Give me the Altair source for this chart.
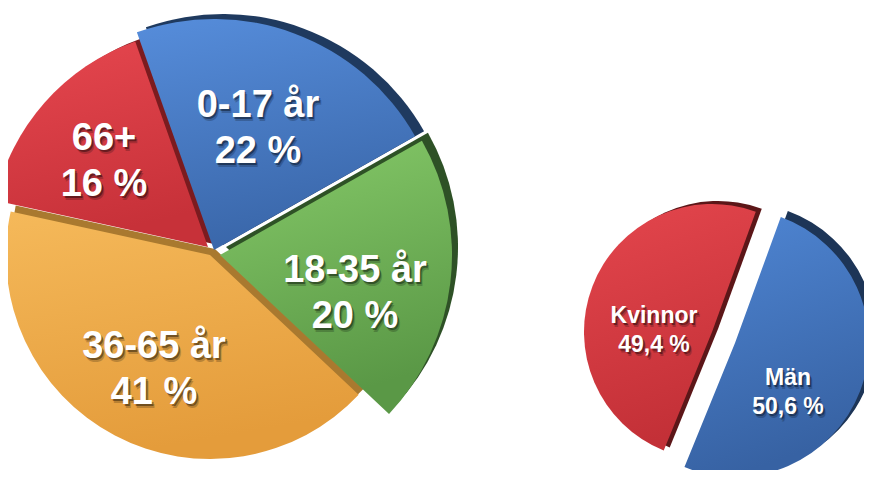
import math
import altair as alt
import pandas as pd

# ---- data ----
age_labels = ["0-17 år", "18-35 år", "36-65 år", "66+"]
age_values = [22, 20, 41, 16]
sex_labels = ["Män", "Kvinnor"]
sex_values = [50.6, 49.4]

age_df = pd.DataFrame({"cat": age_labels, "v": age_values})
sex_df = pd.DataFrame({"cat": sex_labels, "v": sex_values})

FONT = "Liberation Sans"


def grad(top, bot):
    return {
        "gradient": "linear",
        "x1": 0, "y1": 0, "x2": 0.25, "y2": 1,
        "stops": [{"offset": 0, "color": top}, {"offset": 1, "color": bot}],
    }


# layout / style per slice (pixel positions, not data)
age_style = {
    "0-17 år": dict(cx=206, cy=242, r=231, top="#568ddb", bot="#3a67aa",
                    shadow="#1f3a5f", sdx=9, sdy=-5, tx=250, ty=109),
    "18-35 år": dict(cx=212, cy=247, r=232, top="#86ca69", bot="#5a9846",
                     shadow="#2e5126", sdx=6, sdy=-8, tx=347, ty=274),
    "36-65 år": dict(cx=202, cy=247, r=204, top="#f5b95a", bot="#e49c3b",
                     shadow="#a9792f", sdx=5, sdy=-6, tx=146, ty=350),
    "66+": dict(cx=200, cy=239, r=218, top="#e6474f", bot="#c73139",
                shadow="#7b1b1f", sdx=6, sdy=-3, tx=96, ty=142),
}
sex_style = {
    "Män": dict(cx=727, cy=335, r=134, top="#4f86d4", bot="#3762a3",
                shadow="#1d3557", sdx=7, sdy=-6, tx=780, ty=377),
    "Kvinnor": dict(cx=704, cy=324, r=128, top="#e4464d", bot="#c33037",
                    shadow="#5c1618", sdx=6, sdy=-3, tx=646, ty=315),
}


def pie_layers(df, start_deg, pct_expr, styles, font_size, line_h):
    start = math.radians(start_deg)
    base = (
        alt.Chart(df)
        .transform_joinaggregate(total="sum(v)")
        .transform_window(cum="sum(v)", frame=[None, 0])
        .transform_calculate(
            t1=f"{start} + 2 * PI * datum.cum / datum.total",
            t0=f"{start} + 2 * PI * (datum.cum - datum.v) / datum.total",
            lbl="datum.cat + '\\n' + " + pct_expr + " + ' %'",
        )
    )
    shadows, faces, texts = [], [], []
    for cat, s in styles.items():
        sub = base.transform_filter(alt.datum.cat == cat)
        enc = dict(theta=alt.Theta("t0:Q", scale=None), theta2=alt.Theta2("t1:Q"))
        shadows.append(
            sub.mark_arc(radius=s["r"], color=s["shadow"]).encode(
                x=alt.value(s["cx"] + s["sdx"]), y=alt.value(s["cy"] + s["sdy"]), **enc
            )
        )
        faces.append(
            sub.mark_arc(radius=s["r"], color=grad(s["top"], s["bot"])).encode(
                x=alt.value(s["cx"]), y=alt.value(s["cy"]), **enc
            )
        )
        for dx, dy, op in [(2.5, 3.5, 0.2), (1.5, 2.0, 0.38)]:
            texts.append(
                sub.mark_text(
                    font=FONT, fontSize=font_size, fontWeight="bold", color="#000000",
                    opacity=op, align="center", baseline="alphabetic",
                    lineBreak="\n", lineHeight=line_h,
                ).encode(x=alt.value(s["tx"] + dx), y=alt.value(s["ty"] + dy), text="lbl:N")
            )
        texts.append(
            sub.mark_text(
                font=FONT, fontSize=font_size, fontWeight="bold", color="#ffffff",
                align="center", baseline="alphabetic", lineBreak="\n", lineHeight=line_h,
            ).encode(x=alt.value(s["tx"]), y=alt.value(s["ty"]), text="lbl:N")
        )
    return shadows + faces + texts


layers = pie_layers(age_df, -19.5, "format(datum.v, 'd')", age_style, 38, 46)
layers += pie_layers(sex_df, 20, "replace(format(datum.v, '.1f'), '.', ',')", sex_style, 23, 29)

chart = (
    alt.layer(*layers)
    .properties(width=856, height=462, autosize=alt.AutoSizeParams(type="none"), padding=0,
                background="#ffffff")
    .configure_view(stroke=None)
)

chart.save("out.html", embed_options={"renderer": "svg", "actions": False})
